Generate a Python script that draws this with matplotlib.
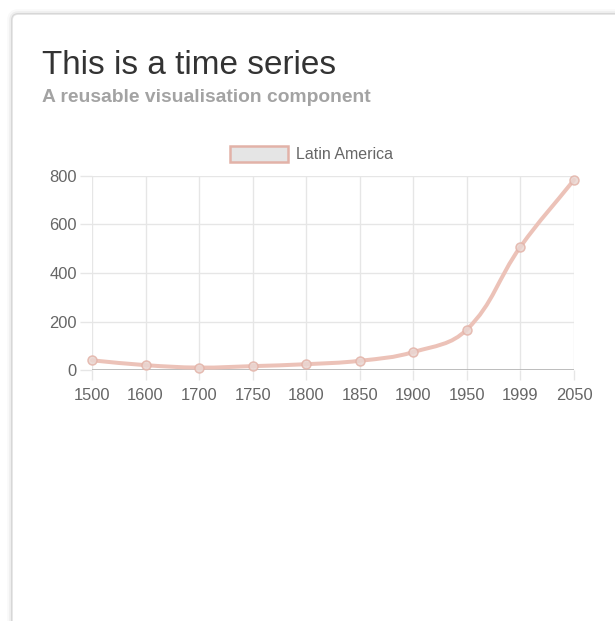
import numpy as np
from matplotlib import pyplot as plt
from matplotlib.patches import FancyBboxPatch, Patch, PathPatch
from matplotlib.path import Path

plt.rcParams["font.family"] = ["Liberation Sans", "DejaVu Sans"]

YEARS = ["1500", "1600", "1700", "1750", "1800", "1850", "1900", "1950", "1999", "2050"]
LATIN_AMERICA = [40, 20, 10, 16, 24, 38, 74, 167, 508, 784]
Y_TICKS = [0, 200, 400, 600, 800]

TITLE = "This is a time series"
SUBTITLE = "A reusable visualisation component"
SERIES_NAME = "Latin America"

W, H, DPI = 615, 621, 100
LINE_COLOR = "#ecc2b8"
POINT_EDGE = "#e3b3a8"
POINT_FACE = "#ead6d1"
GRID_COLOR = "#e6e6e6"
TICK_LABEL = "#666666"
TENSION = 0.4


def px(v):
    # pixels -> points
    return v * 72.0 / DPI


def spline_path(ax, xs, ys, tension=TENSION):
    # bezier control points computed in display space like chart.js does
    pts = ax.transData.transform(np.column_stack([xs, ys]))
    n = len(pts)
    prev_cp, next_cp = [], []
    for i in range(n):
        f = pts[max(i - 1, 0)]
        m = pts[i]
        a = pts[min(i + 1, n - 1)]
        d01 = np.hypot(*(m - f))
        d12 = np.hypot(*(a - m))
        tot = d01 + d12
        s01 = d01 / tot if tot else 0.0
        s12 = d12 / tot if tot else 0.0
        prev_cp.append(m - tension * s01 * (a - f))
        next_cp.append(m + tension * s12 * (a - f))

    inv = ax.transData.inverted()
    verts = [pts[0]]
    codes = [Path.MOVETO]
    for i in range(n - 1):
        verts += [next_cp[i], prev_cp[i + 1], pts[i + 1]]
        codes += [Path.CURVE4] * 3
    verts = inv.transform(np.array(verts))
    verts[:, 1] = np.clip(verts[:, 1], Y_TICKS[0], Y_TICKS[-1])
    return Path(verts, codes)


def main():
    fig = plt.figure(figsize=(W / DPI, H / DPI), dpi=DPI)
    fig.patch.set_facecolor("white")

    # card with soft shadow
    for k, (alpha, lw) in enumerate([(0.025, 7), (0.045, 4), (0.10, 1.3)]):
        card = FancyBboxPatch(
            (12 / W, -0.1), 1.0, 1 - 14 / H + 0.1,
            boxstyle="round,pad=0,rounding_size=0.01",
            transform=fig.transFigure, facecolor="white" if k == 2 else "none",
            edgecolor=(0, 0, 0, alpha), linewidth=lw, zorder=0,
        )
        fig.add_artist(card)

    fig.text(41.5 / W, 1 - 73.5 / H, TITLE, fontsize=px(33.3), color="#333333", va="baseline", ha="left")
    fig.text(42 / W, 1 - 101.5 / H, SUBTITLE, fontsize=px(19.3), color="#a3a3a3",
             fontweight="bold", va="baseline", ha="left")

    left, right, top, bottom = 92, 574, 176, 370
    ax = fig.add_axes([left / W, 1 - bottom / H, (right - left) / W, (bottom - top) / H])
    x = np.arange(len(YEARS))
    ax.set_xlim(0, len(YEARS) - 1)
    ax.set_ylim(Y_TICKS[0], Y_TICKS[-1])
    ax.set_xticks(x)
    ax.set_xticklabels(YEARS)
    ax.set_yticks(Y_TICKS)
    ax.set_facecolor("none")
    for s in ax.spines.values():
        s.set_visible(False)
    ax.grid(True, color=GRID_COLOR, linewidth=1)
    ax.set_axisbelow(True)
    ax.axhline(0, color="#b3b3b3", linewidth=1.2, zorder=1)
    ax.tick_params(axis="x", length=px(10), width=1, color=GRID_COLOR,
                   labelsize=px(16.5), labelcolor=TICK_LABEL, pad=px(8))
    ax.tick_params(axis="y", length=px(12), width=1, color=GRID_COLOR,
                   labelsize=px(16.5), labelcolor=TICK_LABEL, pad=px(3))

    path = spline_path(ax, x, LATIN_AMERICA)
    ax.add_patch(PathPatch(path, facecolor="none", edgecolor=LINE_COLOR,
                           linewidth=px(4), capstyle="round", joinstyle="round",
                           zorder=3, clip_on=False))
    ax.plot(x, LATIN_AMERICA, linestyle="none", marker="o", markersize=px(9),
            markerfacecolor=POINT_FACE, markeredgecolor=POINT_EDGE,
            markeredgewidth=px(1.5), alpha=0.85, zorder=4, clip_on=False)

    handle = Patch(facecolor="#e5e5e5", edgecolor="#e2b2a8", linewidth=px(2.5), label=SERIES_NAME)
    fs = 16
    fig.legend(handles=[handle], loc="center", bbox_to_anchor=(311 / W, 1 - 154 / H),
               frameon=False, fontsize=px(fs), labelcolor=TICK_LABEL,
               handlelength=58 / fs, handleheight=19 / fs, handletextpad=8 / fs,
               borderpad=0, borderaxespad=0)

    fig.savefig("out.png", dpi=DPI)
    plt.close(fig)


if __name__ == "__main__":
    main()
